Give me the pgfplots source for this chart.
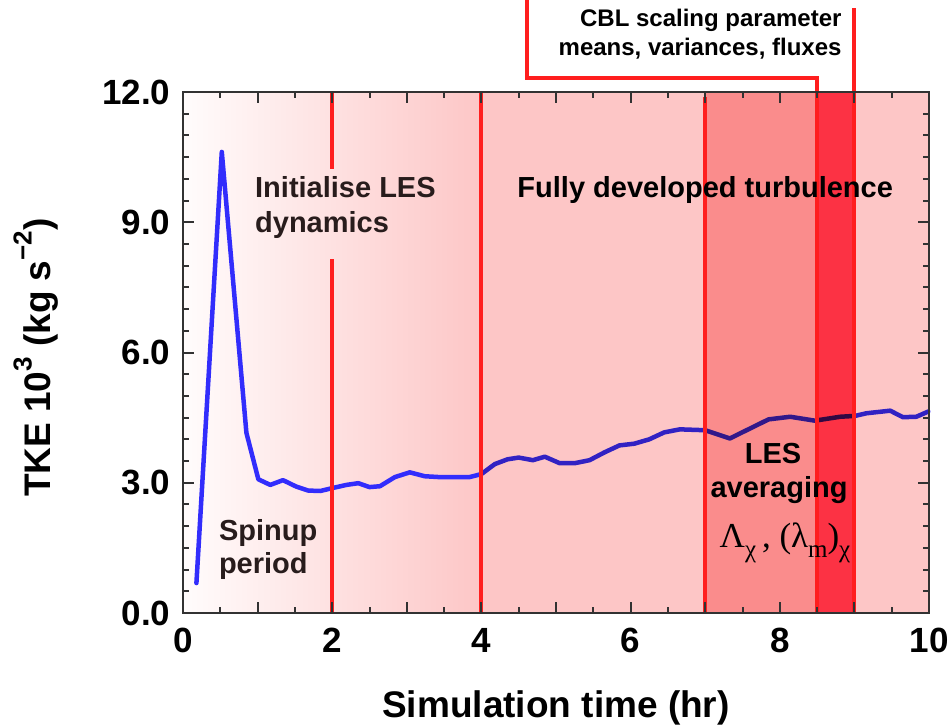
\documentclass[border=0pt]{standalone}
\usepackage{pgfplots}
\pgfplotsset{compat=1.18}
\usepackage{fontspec}
\setmainfont{Liberation Sans}
\newfontfamily\seriffont{Liberation Serif}
\definecolor{curve}{RGB}{50,45,252}
\definecolor{redline}{RGB}{255,30,30}
\definecolor{pinkbg}{RGB}{253,198,198}
\definecolor{leftbg}{RGB}{255,252,252}
\definecolor{salmon}{RGB}{250,140,140}
\definecolor{redband}{RGB}{252,50,68}
\definecolor{darktext}{RGB}{40,28,28}
\definecolor{framec}{RGB}{50,50,50}
\newcommand{\sub}[1]{\raisebox{-0.3em}{\fontsize{25}{25}\selectfont #1}}
\newcommand{\sups}[1]{\raisebox{0.5em}{\fontsize{26}{26}\selectfont #1}}
\pgfplotstableread{
x y
0.18 0.69
0.52 10.62
0.85 4.15
1.01 3.08
1.17 2.95
1.34 3.06
1.52 2.91
1.68 2.82
1.84 2.81
2.01 2.88
2.19 2.95
2.35 2.99
2.50 2.90
2.64 2.92
2.84 3.13
3.04 3.24
3.24 3.15
3.44 3.13
3.84 3.13
4.00 3.20
4.18 3.43
4.35 3.54
4.50 3.58
4.69 3.52
4.85 3.60
5.05 3.45
5.25 3.45
5.45 3.52
5.65 3.70
5.85 3.86
6.05 3.90
6.25 4.00
6.45 4.16
6.66 4.23
7.00 4.21
7.33 4.02
7.85 4.46
8.14 4.52
8.47 4.43
8.81 4.52
9.01 4.54
9.16 4.60
9.48 4.66
9.65 4.51
9.83 4.52
9.99 4.64
}\tkedata
\begin{document}
\begin{tikzpicture}
\path[use as bounding box] (-183pt,-113pt) rectangle (767pt,613pt);
\begin{axis}[
 at={(0,0)}, anchor=south west,
 scale only axis, width=746pt, height=521pt,
 xmin=0, xmax=10, ymin=0, ymax=12,
 clip=false, axis on top,
 axis line style={framec, line width=2.5pt},
 tick style={framec, line width=2pt},
 major tick length=11pt, minor tick length=6pt,
 xtick={0,1,...,10}, xticklabels={0,,2,,4,,6,,8,,10},
 minor x tick num=1,
 ytick={0,3,6,9,12}, minor y tick num=5,
 /pgf/number format/assume math mode=true,
 ticklabel style={font=\bfseries\fontsize{35}{35}\selectfont},
 xticklabel style={yshift=-12pt},
 yticklabel style={/pgf/number format/fixed, /pgf/number format/fixed zerofill, /pgf/number format/precision=1, xshift=-9pt},
 xlabel={Simulation time (hr)},
 ylabel={TKE 10\sups{3} (kg s\sups{−2})},
 label style={font=\bfseries\fontsize{37}{37}\selectfont},
 xlabel style={at={(axis description cs:0.5,-0.2015)}, anchor=base},
 ylabel style={at={(axis description cs:-0.178,0.49)}, anchor=base},
]
\fill[left color=leftbg, right color=pinkbg] (axis cs:0,0) rectangle (axis cs:4.02,12);
\addplot[curve, line width=4.5pt, line join=round, line cap=round] table[x=x,y=y] {\tkedata};
\begin{scope}[blend mode=multiply]
\fill[pinkbg] (axis cs:4,0) rectangle (axis cs:7,12);
\fill[salmon] (axis cs:7,0) rectangle (axis cs:8.5,12);
\fill[redband] (axis cs:8.5,0) rectangle (axis cs:9,12);
\fill[pinkbg] (axis cs:9,0) rectangle (axis cs:10,12);
\end{scope}
\begin{scope}[redline, line width=4pt]
\draw (axis cs:2,12) -- (axis cs:2,10.22);
\draw (axis cs:2,8.15) -- (axis cs:2,0);
\draw (axis cs:4,0) -- (axis cs:4,12);
\draw (axis cs:7,0) -- (axis cs:7,11.88);
\draw[line join=miter] (axis cs:8.5,0) -- (axis cs:8.5,12.32) -- (axis cs:4.61,12.32) -- (axis cs:4.61,14.3);
\draw (axis cs:9,0) -- (axis cs:9,13.94);
\end{scope}
\begin{scope}[every node/.style={inner sep=0pt, font=\bfseries\fontsize{29}{29}\selectfont}]
\node[anchor=base west, darktext] at (axis cs:0.965,9.56) {Initialise LES};
\node[anchor=base west, darktext] at (axis cs:0.965,8.77) {dynamics};
\node[anchor=base] at (axis cs:7.0,9.56) {Fully developed turbulence};
\node[anchor=base west, darktext] at (axis cs:0.48,1.68) {Spinup};
\node[anchor=base west, darktext] at (axis cs:0.48,0.92) {period};
\node[anchor=base] at (axis cs:7.91,3.45) {LES};
\node[anchor=base] at (axis cs:7.99,2.65) {averaging};
\node[anchor=base, font=\seriffont\fontsize{35}{35}\selectfont] at (axis cs:8.07,1.52) {Λ\sub{χ}\,, (λ\sub{m})\sub{χ}};
\node[anchor=base east, font=\bfseries\fontsize{24}{24}\selectfont] at (axis cs:8.83,13.5) {CBL scaling parameter};
\node[anchor=base east, font=\bfseries\fontsize{24}{24}\selectfont] at (axis cs:8.83,12.85) {means, variances, fluxes};
\end{scope}
\end{axis}
\end{tikzpicture}
\end{document}
